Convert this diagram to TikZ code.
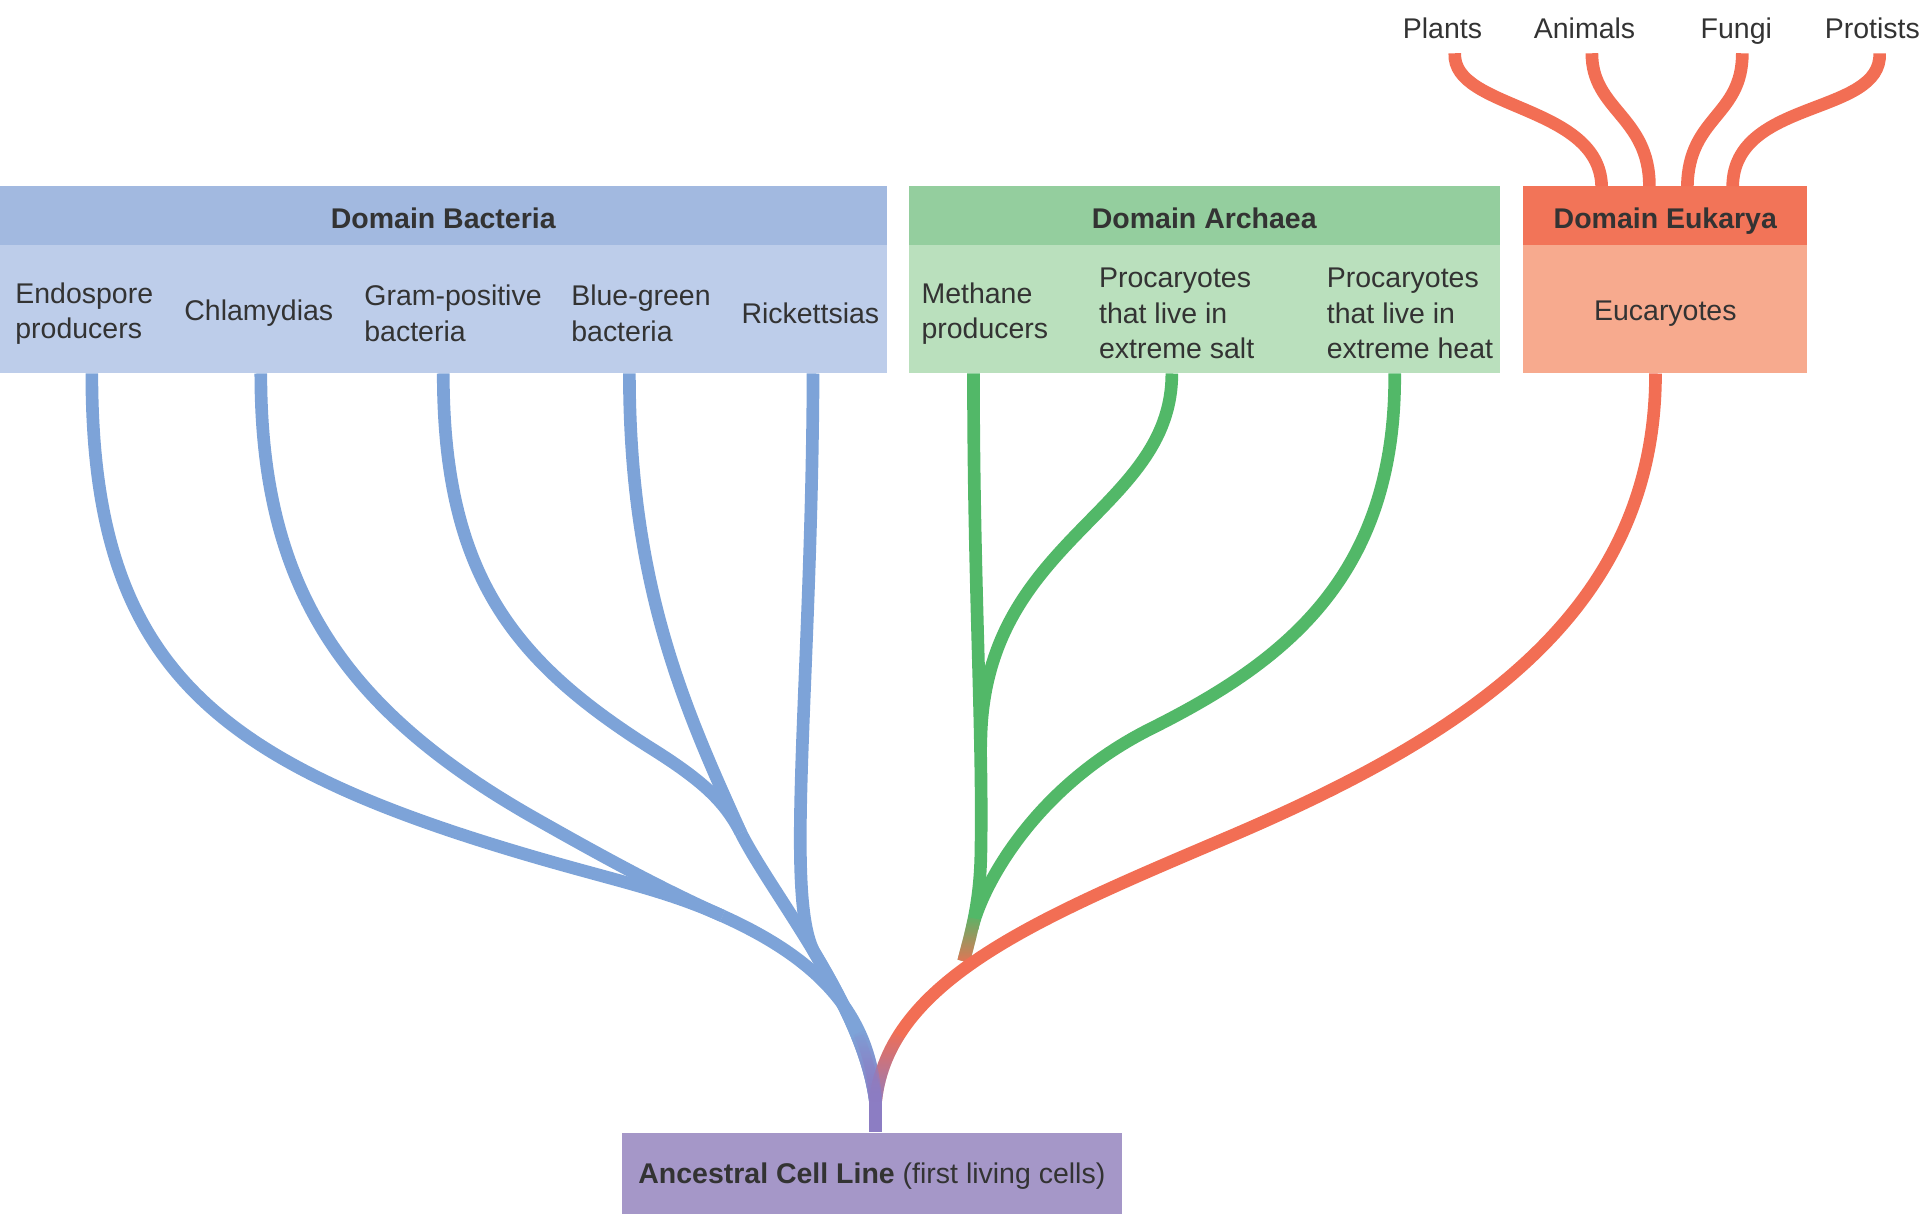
\documentclass[tikz,border=0pt]{standalone}
\usepackage{fontspec}
\setmainfont{Liberation Sans}
\usepackage{xcolor}
\usetikzlibrary{fadings}

\definecolor{bacthead}{HTML}{A2B9E0}
\definecolor{bactbody}{HTML}{BDCDEA}
\definecolor{bactline}{HTML}{7DA3D8}
\definecolor{archhead}{HTML}{94CE9E}
\definecolor{archbody}{HTML}{BAE0BD}
\definecolor{archline}{HTML}{52B868}
\definecolor{eukhead}{HTML}{F27458}
\definecolor{eukbody}{HTML}{F7AA8E}
\definecolor{eukline}{HTML}{F26E54}
\definecolor{ancfill}{HTML}{A597C8}
\definecolor{ancline}{HTML}{8C7DC3}
\definecolor{txtgray}{HTML}{333333}

\newlength{\pxu}
\setlength{\pxu}{0.012245cm}

\tikzfading[name=fadeup, top color=transparent!100, bottom color=transparent!0]

\begin{document}
\begin{tikzpicture}[x=0.012245cm, y=-0.012245cm,
    every node/.style={inner sep=0pt, text=txtgray, font=\fontsize{8.1}{10.1}\selectfont},
    head/.style={minimum height=48\pxu, text height=1.35ex, text depth=0pt, font=\fontsize{8.1}{10.1}\selectfont\bfseries},
    body/.style={minimum height=105\pxu},
    kind/.style={anchor=west, align=left},
    group/.style={inner sep=2pt, text height=1.6ex, text depth=0.4ex},
    bline/.style={draw=bactline, line width=3.6pt},
    aline/.style={draw=archline, line width=3.6pt},
    eline/.style={draw=eukline, line width=3.6pt},
    stemline/.style={draw=ancline, line width=3.6pt}]
            \useasboundingbox (0,0) rectangle (1568,991);

            % domain boxes
            \node[head, fill=bacthead, minimum width=724\pxu] (bact) at (362,176) {Domain Bacteria};
            \node[body, fill=bactbody, minimum width=724\pxu] (bactbox) at (362,252.5) {};
            \node[head, fill=archhead, minimum width=483\pxu] (arch) at (983.5,176) {Domain Archaea};
            \node[body, fill=archbody, minimum width=483\pxu] (archbox) at (983.5,252.5) {};
            \node[head, fill=eukhead, minimum width=232\pxu] (euk) at (1360,176) {Domain Eukarya};
            \node[body, fill=eukbody, minimum width=232\pxu] (eukbox) at (1360,252.5) {};
            \node[fill=ancfill, minimum width=408\pxu, minimum height=66\pxu, text height=1.1ex, text depth=0pt] (anc) at (712,958)
                {\textbf{Ancestral Cell Line} (first living cells)};

            \node[kind] (b1) at (12,256) {Endospore\\producers};
            \node[kind] (b2) at (150,256) {Chlamydias};
            \node[kind] (b3) at (297,256) {Gram-positive\\bacteria};
            \node[kind] (b4) at (466,256) {Blue-green\\bacteria};
            \node[kind] (b5) at (605,256) {Rickettsias};
            \node[kind] (a1) at (752,256) {Methane\\producers};
            \node[kind] (a2) at (897,256) {Procaryotes\\that live in\\extreme salt};
            \node[kind] (a3) at (1083,256) {Procaryotes\\that live in\\extreme heat};
            \node (e1) at (1360,256) {Eucaryotes};

            \node[group] (p1) at (1178,22) {Plants};
            \node[group] (p2) at (1294,22) {Animals};
            \node[group] (p3) at (1418,22) {Fungi};
            \node[group] (p4) at (1529,22) {Protists};

            \coordinate (f1) at (75,305);
            \coordinate (f2) at (213,305);
            \coordinate (f3) at (362,305);
            \coordinate (f4) at (514,305);
            \coordinate (f5) at (664,305);
            \coordinate (f6) at (795,305);
            \coordinate (f7) at (957,305);
            \coordinate (f8) at (1139,305);
            \coordinate (f9) at (1352,305);
            \coordinate (root) at (715,900);
            \coordinate (mL) at (590,748);
            \coordinate (mR) at (605,680);
            \coordinate (m5) at (665.6,778.75);
            \coordinate (gj) at (787,785);
            \coordinate (t1) at (1308,152);
            \coordinate (t2) at (1347,152);
            \coordinate (t3) at (1378,152);
            \coordinate (t4) at (1415,152);

            % bacteria
            \draw[bline] (f1) .. controls (75,540) and (170,620) .. (420,695) .. controls (500,719) and (540,725.5) .. (mL);
            \draw[bline] (f2) .. controls (213,480) and (280,580) .. (440,670) .. controls (500,704) and (545,728) .. (mL);
            \draw[bline] (mL) .. controls (670,784) and (712,830) .. (root);
            \draw[bline] (f3) .. controls (362,470) and (420,540) .. (530,610) .. controls (575,638) and (592,655) .. (mR);
            \draw[bline] (f4) .. controls (514,480) and (560,580) .. (mR);
            \draw[bline] (mR) .. controls (630,730) and (705,820) .. (root);
            \draw[bline] (f5) .. controls (663,560) and (640,735) .. (m5) .. controls (688.7,817.5) and (710,860) .. (root);

            % archaea
            \draw[aline] (f6) .. controls (795,480) and (803,600) .. (801,700) .. controls (800,740) and (792,765) .. (gj);
            \draw[aline] (f7) .. controls (957,420) and (800,440) .. (801,610);
            \draw[aline] (f8) .. controls (1140,470) and (1050,540) .. (940,595) .. controls (840,645) and (800,730) .. (794,758);

            % eukarya
            \draw[eline] (f9) .. controls (1352,500) and (1200,600) .. (1000,685) .. controls (850,749) and (725,800) .. (root);
            \draw[eline, path fading=fadeup] (795.5,750) .. controls (792.75,763.75) and (789.5,775) .. (gj);

            \draw[stemline, path fading=fadeup] (701.7,843.1) .. controls (709.6,860.2) and (714.1,879) .. (root);
            \draw[stemline, path fading=fadeup] (700.2,846.2) .. controls (707.5,864.2) and (712.8,882.4) .. (root);
            \draw[stemline, path fading=fadeup] (734.1,845.4) .. controls (723.6,862) and (717,880) .. (root);
            \draw[stemline] (root) -- (root |- anc.north);

            \draw[eline] ([xshift=3.5pt]p1.south) .. controls (1186,90) and (1306,85) .. (t1);
            \draw[eline] ([xshift=2.1pt]p2.south) .. controls (1300,90) and (1347,95) .. (t2);
            \draw[eline] ([xshift=1.7pt]p3.south) .. controls (1423,95) and (1379,95) .. (t3);
            \draw[eline] ([xshift=2.1pt]p4.south) .. controls (1537,95) and (1416,80) .. (t4);
        \end{tikzpicture}
\end{document}
